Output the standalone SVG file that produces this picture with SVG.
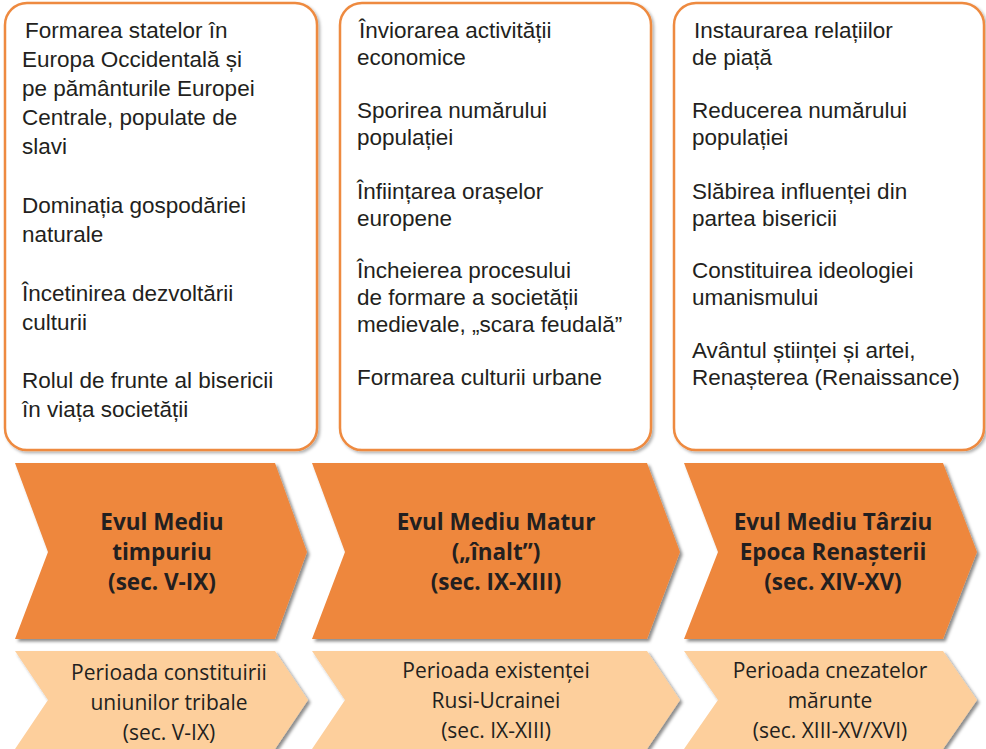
<svg xmlns="http://www.w3.org/2000/svg" width="986" height="749" viewBox="0 0 986 749">
<defs>
<filter id="sh" x="-5%" y="-5%" width="115%" height="115%">
<feDropShadow dx="2.5" dy="2.5" stdDeviation="1.5" flood-color="#000" flood-opacity="0.45"/>
</filter>
<filter id="shb" x="-5%" y="-5%" width="115%" height="115%">
<feDropShadow dx="2" dy="2" stdDeviation="1.5" flood-color="#000" flood-opacity="0.3"/>
</filter>
</defs>
<style>
.box{fill:#fff;stroke:#EE8A3F;stroke-width:2.5}
.dark{fill:#EE873D}
.light{fill:#FDCF9C}
text{font-family:"Open Sans","Noto Sans",sans-serif;fill:#231F20}
.t{font-family:"Liberation Sans",Arial,sans-serif;font-size:22.5px}
.b{font-size:22.5px;font-weight:bold;text-anchor:middle}
.l{font-size:21px;text-anchor:middle}
</style>
<g id="box1">
<rect class="box" x="5" y="3" width="312" height="447" rx="22" filter="url(#shb)"/>
<text class="t"><tspan x="25" y="38">Formarea statelor în</tspan><tspan x="22" y="67">Europa Occidentală și</tspan><tspan x="22" y="96">pe pământurile Europei</tspan><tspan x="22" y="125">Centrale, populate de</tspan><tspan x="22" y="154">slavi</tspan><tspan x="22" y="213">Dominația gospodăriei</tspan><tspan x="22" y="242">naturale</tspan><tspan x="22" y="301">Încetinirea dezvoltării</tspan><tspan x="22" y="330">culturii</tspan><tspan x="22" y="388">Rolul de frunte al bisericii</tspan><tspan x="22" y="417">în viața societății</tspan></text>
</g>
<g id="box2">
<rect class="box" x="340" y="3" width="311" height="447" rx="22" filter="url(#shb)"/>
<text class="t"><tspan x="359" y="38">Înviorarea activității</tspan><tspan x="357" y="65">economice</tspan><tspan x="357" y="118">Sporirea numărului</tspan><tspan x="357" y="145">populației</tspan><tspan x="357" y="199">Înființarea orașelor</tspan><tspan x="357" y="226">europene</tspan><tspan x="357" y="278">Încheierea procesului</tspan><tspan x="357" y="305">de formare a societății</tspan><tspan x="357" y="332">medievale, „scara feudală”</tspan><tspan x="357" y="385">Formarea culturii urbane</tspan></text>
</g>
<g id="box3">
<rect class="box" x="674" y="3" width="310" height="447" rx="22" filter="url(#shb)"/>
<text class="t"><tspan x="694" y="38">Instaurarea relațiilor</tspan><tspan x="692" y="65">de piață</tspan><tspan x="692" y="118">Reducerea numărului</tspan><tspan x="692" y="145">populației</tspan><tspan x="692" y="199">Slăbirea influenței din</tspan><tspan x="692" y="226">partea bisericii</tspan><tspan x="692" y="278">Constituirea ideologiei</tspan><tspan x="692" y="305">umanismului</tspan><tspan x="692" y="358">Avântul științei și artei,</tspan><tspan x="692" y="385">Renașterea (Renaissance)</tspan></text>
</g>
<g id="era1">
<polygon class="dark" points="15,463 275,463 307,552 275,639 15,639 48,552" filter="url(#sh)"/>
<text class="b"><tspan x="162" y="530">Evul Mediu</tspan><tspan x="162" y="560">timpuriu</tspan><tspan x="162" y="590">(sec. V-IX)</tspan></text>
</g>
<g id="era2">
<polygon class="dark" points="312,463 647,463 680,552 647,639 312,639 345,552" filter="url(#sh)"/>
<text class="b"><tspan x="496" y="530">Evul Mediu Matur</tspan><tspan x="496" y="560">(„înalt”)</tspan><tspan x="496" y="590">(sec. IX-XIII)</tspan></text>
</g>
<g id="era3">
<polygon class="dark" points="684,463 943,463 977,552 943,639 684,639 718,552" filter="url(#sh)"/>
<text class="b"><tspan x="833" y="530">Evul Mediu Târziu</tspan><tspan x="833" y="560">Epoca Renașterii</tspan><tspan x="833" y="590">(sec. XIV-XV)</tspan></text>
</g>
<g id="per1">
<polygon class="light" points="15,651 275,651 308,700 275,749 15,749 48,700" filter="url(#sh)"/>
<text class="l"><tspan x="169" y="680">Perioada constituirii</tspan><tspan x="169" y="710">uniunilor tribale</tspan><tspan x="169" y="740">(sec. V-IX)</tspan></text>
</g>
<g id="per2">
<polygon class="light" points="312,651 647,651 680,700 647,749 312,749 345,700" filter="url(#sh)"/>
<text class="l"><tspan x="496" y="678">Perioada existenței</tspan><tspan x="496" y="708">Rusi-Ucrainei</tspan><tspan x="496" y="738">(sec. IX-XIII)</tspan></text>
</g>
<g id="per3">
<polygon class="light" points="684,651 943,651 977,700 943,749 684,749 718,700" filter="url(#sh)"/>
<text class="l"><tspan x="830" y="678">Perioada cnezatelor</tspan><tspan x="830" y="708">mărunte</tspan><tspan x="830" y="738">(sec. XIII-XV/XVI)</tspan></text>
</g>
<g id="connectors"/>
</svg>
